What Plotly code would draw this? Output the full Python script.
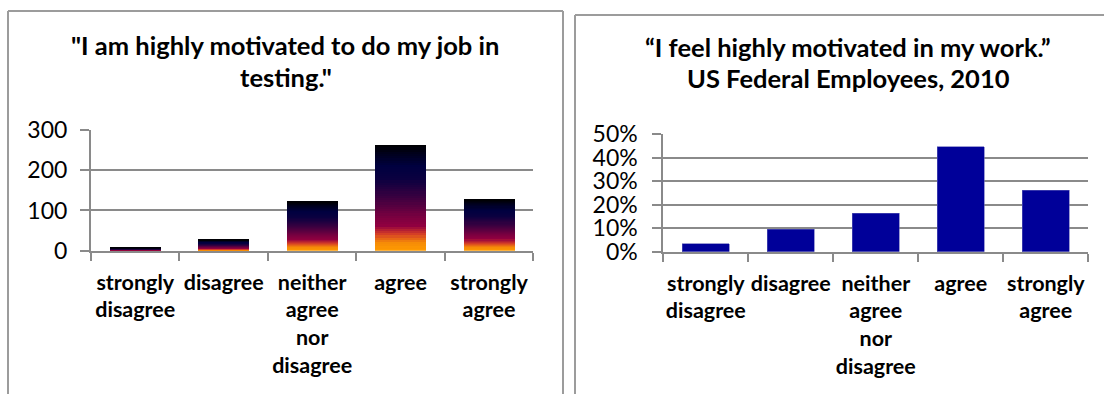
import plotly.graph_objects as go
from plotly.colors import sample_colorscale

# ---- data -------------------------------------------------------------
categories = [
    "strongly<br>disagree",
    "disagree",
    "neither<br>agree<br>nor<br>disagree",
    "agree",
    "strongly<br>agree",
]
tester_counts = [7, 27, 122, 262, 127]
federal_share = [0.033, 0.096, 0.163, 0.445, 0.261]

left_title = ['"I am highly motivated to do my job in', 'testing."']
right_title = ["\u201cI feel highly motivated in my work.\u201d", "US Federal Employees, 2010"]

count_ticks = [0, 100, 200, 300]
share_ticks = [0, 0.1, 0.2, 0.3, 0.4, 0.5]

# ---- styling ----------------------------------------------------------
W, H = 1104, 394
FONT = "Lato"
GRID = "#8a8a8a"
FRAME = "#9c9c9c"
NAVY = "#000099"

# vertical sunset gradient, bottom (0) to top (1)
sunset = [
    [0.00, "#ff9c00"],
    [0.08, "#f58a08"],
    [0.16, "#d23a28"],
    [0.24, "#900040"],
    [0.32, "#7a0040"],
    [0.50, "#3c0040"],
    [0.68, "#0a0040"],
    [0.80, "#000040"],
    [0.92, "#00001c"],
    [1.00, "#000000"],
]
N_SLICES = 48


def px_x(p):
    return p / W


def px_y(p):
    return 1 - p / H


fig = go.Figure()

# left chart: each bar is stacked from thin slices carrying the gradient
colors = sample_colorscale(sunset, [(k + 0.5) / N_SLICES for k in range(N_SLICES)])
for k in range(N_SLICES):
    fig.add_trace(go.Bar(
        x=categories,
        y=[v / N_SLICES for v in tester_counts],
        marker=dict(color=colors[k], line=dict(width=0)),
        width=0.576,
        xaxis="x", yaxis="y",
        showlegend=False, hoverinfo="skip",
    ))

# right chart
fig.add_trace(go.Bar(
    x=categories,
    y=federal_share,
    marker=dict(color=NAVY, line=dict(width=0.6, color="#5a5ab8")),
    width=0.55,
    xaxis="x2", yaxis="y2",
    showlegend=False,
))

tick_font = dict(family=FONT, size=23, color="#000000")
xtick_font = dict(family=FONT, size=21.5, color="#000000", weight="bold")

common_x = dict(
    type="category", showgrid=False, showline=True, linecolor=GRID, linewidth=2,
    ticks="outside", tickson="boundaries", ticklen=8, tickcolor=GRID, tickwidth=2,
    tickfont=xtick_font, tickangle=0, zeroline=False, fixedrange=True,
    ticklabelstandoff=11, automargin=False,
)
common_y = dict(
    showgrid=True, gridcolor=GRID, gridwidth=2, showline=True, linecolor=GRID,
    linewidth=2, ticks="outside", ticklen=9, tickcolor=GRID, tickwidth=2,
    tickfont=tick_font, zeroline=False, fixedrange=True, automargin=False,
)

fig.update_layout(
    template="none",
    width=W, height=H, autosize=False,
    margin=dict(l=0, r=0, t=0, b=0, pad=0, autoexpand=False),
    paper_bgcolor="white", plot_bgcolor="white",
    barmode="stack",
    xaxis=dict(common_x, domain=[px_x(91), px_x(533.3)], anchor="y"),
    yaxis=dict(common_y, domain=[px_y(250.7), px_y(130)], anchor="x",
               range=[0, 300], tickvals=count_ticks, ticklabelstandoff=8),
    xaxis2=dict(common_x, domain=[px_x(663.3), px_x(1088.3)], anchor="y2"),
    yaxis2=dict(common_y, domain=[px_y(251.7), px_y(134)], anchor="x2",
                range=[0, 0.5], tickvals=share_ticks, tickformat=".0%",
                ticklabelstandoff=10),
)

title_font = dict(family=FONT, size=25.5, color="#000000", weight="bold")
for text, cx, cy in [
    (left_title[0], 285, 45), (left_title[1], 286, 77),
    (right_title[0], 848, 47), (right_title[1], 848, 78),
]:
    fig.add_annotation(
        text=text, x=px_x(cx), y=px_y(cy), xref="paper", yref="paper",
        xanchor="center", yanchor="middle", showarrow=False, font=title_font,
    )

# panel frames
frame = dict(color=FRAME, width=2)
for x0, y0, x1, y1 in [
    (8, 11, 8, H), (8, 11, 563, 11), (563, 11, 563, H),
    (575, 15, 575, H), (575, 15, W, 15),
]:
    fig.add_shape(type="line", xref="paper", yref="paper",
                  x0=px_x(x0), y0=px_y(y0), x1=px_x(x1), y1=px_y(y1), line=frame)

fig.write_html("out.html")
